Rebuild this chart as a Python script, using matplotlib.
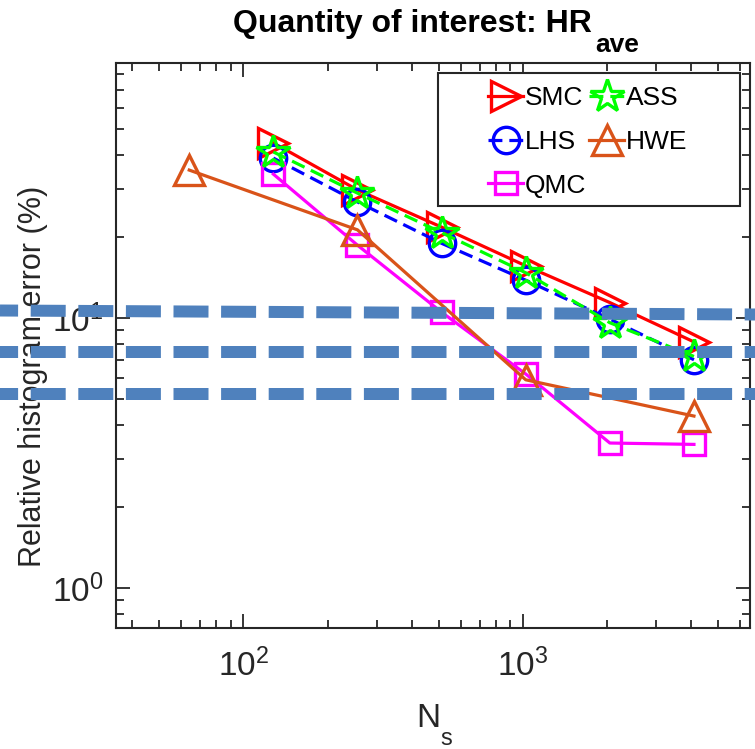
import matplotlib
matplotlib.use("Agg")
import matplotlib.pyplot as plt
from matplotlib.lines import Line2D
from matplotlib.patches import Rectangle
from matplotlib.ticker import LogLocator, NullFormatter

plt.rcParams["font.family"] = ["Liberation Sans", "DejaVu Sans"]
plt.rcParams["mathtext.fontset"] = "custom"
plt.rcParams["mathtext.rm"] = "Liberation Sans"
plt.rcParams["mathtext.it"] = "Liberation Sans"
plt.rcParams["mathtext.bf"] = "Liberation Sans:bold"
plt.rcParams["mathtext.default"] = "regular"
plt.rcParams["lines.scale_dashes"] = False

# Sample sizes and relative histogram errors (%)
Ns = [128, 256, 512, 1024, 2048, 4096]
smc = [44.5, 29.8, 21.7, 15.6, 11.4, 8.15]
lhs = [39.1, 26.9, 18.9, 13.8, 9.9, 7.0]
ass = [41.2, 29.0, 20.7, 14.7, 9.6, 7.2]
qmc = [34.1, 18.6, 10.5, 6.2, 3.44, 3.4]
hwe_Ns = [64, 256, 1024, 4096]
hwe = [35.3, 21.2, 5.9, 4.33]

W, H = 755.0, 749.0
fig = plt.figure(figsize=(W / 100, H / 100), dpi=100)
ax = fig.add_axes([116 / W, 1 - 628 / H, (750 - 116) / W, (628 - 63) / H])

lw = 2.3
mew = 2.4
ax.plot(Ns, smc, color=(1, 0, 0), ls="-", lw=lw, marker=">", ms=21,
        mfc="none", mew=mew, label="SMC")
ax.plot(Ns, lhs, color=(0, 0, 1), ls=(0, (10, 5)), lw=lw, marker="o", ms=19,
        mfc="none", mew=mew, label="LHS")
ax.plot(Ns, qmc, color=(1, 0, 1), ls="-", lw=lw, marker="s", ms=16,
        mfc="none", mew=mew, label="QMC")
ax.plot(Ns, ass, color=(0, 1, 0), ls=(0, (10, 5)), lw=lw, marker="*", ms=25,
        mfc="none", mew=mew, label="ASS")
ax.plot(hwe_Ns, hwe, color=(0.85, 0.325, 0.098), ls="-", lw=lw, marker="^",
        ms=22, mfc="none", mew=mew, label="HWE")

ax.set_xscale("log")
ax.set_yscale("log")
ax.set_xlim(35, 6500)
ax.set_ylim(0.71, 88)

ax.xaxis.set_major_locator(LogLocator(base=10, numticks=10))
ax.xaxis.set_minor_locator(LogLocator(base=10, subs=range(2, 10), numticks=20))
ax.yaxis.set_major_locator(LogLocator(base=10, numticks=10))
ax.yaxis.set_minor_locator(LogLocator(base=10, subs=range(2, 10), numticks=20))
ax.xaxis.set_minor_formatter(NullFormatter())
ax.yaxis.set_minor_formatter(NullFormatter())

ax.tick_params(which="both", direction="in", top=True, right=True,
               color="#262626", labelcolor="#262626", labelsize=24, width=1.3)
ax.tick_params(axis="x", which="major", length=10, pad=15)
ax.tick_params(axis="y", which="major", length=10, pad=9)
ax.tick_params(which="minor", length=5.5)
for s in ax.spines.values():
    s.set_linewidth(1.5)
    s.set_color("#262626")

ax.set_ylabel("Relative histogram error (%)", fontsize=22, color="#262626")
ax.yaxis.set_label_coords((48 - 116) / 634, (628 - 376) / 565)

# x-axis label N with a dropped subscript s
fig.text(416 / W, 1 - 727 / H, "N", fontsize=24, color="#262626",
         ha="left", va="baseline")
fig.text(440 / W, 1 - 745 / H, "s", fontsize=17, color="#262626",
         ha="left", va="baseline")

# Title with a bold subscript
fig.text(592 / W, 1 - 32 / H, "Quantity of interest: HR", fontsize=23,
         fontweight="bold", ha="right", va="baseline")
fig.text(595 / W, 1 - 52 / H, "ave", fontsize=19, fontweight="bold",
         ha="left", va="baseline")

# Legend entries (two columns) with a separate rectangular frame
leg = ax.legend(loc="upper left", bbox_to_anchor=(488 / W, 1 - 86 / H),
                bbox_transform=fig.transFigure, ncol=2, fontsize=19,
                frameon=False, borderaxespad=0, borderpad=0,
                handlelength=1.33, handletextpad=0.05, columnspacing=0.13,
                labelspacing=0.75)
leg.set_zorder(6)
frame = Rectangle((438 / W, 1 - 206 / H), (740 - 438) / W, (206 - 73) / H,
                  transform=fig.transFigure, facecolor="white",
                  edgecolor="#262626", lw=1.5, zorder=5.5, clip_on=False)
ax.add_patch(frame)

# Thick reference dashes spanning the whole figure width (pixel coordinates)
band_y = [(310.5, 314.5), (352.0, 352.0), (393.5, 393.5)]
px2pt = 72.0 / 100.0
dash = (16.9 * px2pt, (35.0 * px2pt, 12.6 * px2pt))
for y0, y1 in band_y:
    fig.add_artist(Line2D([0, 1], [1 - y0 / H, 1 - y1 / H],
                          transform=fig.transFigure, color="#4F81BD",
                          lw=12 * px2pt, ls=dash, solid_capstyle="butt",
                          dash_capstyle="butt", zorder=7))

fig.savefig("out.png", dpi=100)
